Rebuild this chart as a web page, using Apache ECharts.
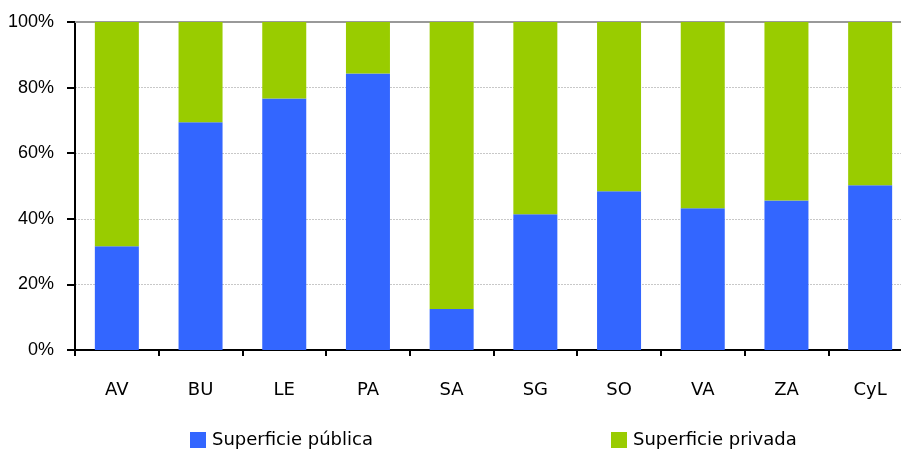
<!DOCTYPE html>
<html><head><meta charset="utf-8">
<script src="https://cdn.jsdelivr.net/npm/echarts@6/dist/echarts.min.js"></script>
<style>html,body{margin:0;padding:0;background:#fff;overflow:hidden}#c{width:913px;height:450px}</style>
</head><body><div id="c"></div>
<script>
const categories = ['AV','BU','LE','PA','SA','SG','SO','VA','ZA','CyL'];
const publica = [31.6, 69.4, 76.7, 84.3, 12.5, 41.4, 48.4, 43.2, 45.6, 50.2];
const privada = publica.map(v => +(100 - v).toFixed(1));
const yTicks = [0, 20, 40, 60, 80, 100];

const chart = echarts.init(document.getElementById('c'));
chart.setOption({
  animation: false,
  grid: { left: 75, top: 22, right: 1, bottom: 100, containLabel: false },
  legend: [
    { data: ['Superficie pública'], left: 190, top: 431, itemWidth: 16, itemHeight: 16, icon: 'rect', padding: 0,
      textStyle: { fontFamily: 'DejaVu Sans', fontSize: 18, lineHeight: 16, color: '#000', padding: [0, 0, 0, 1] } },
    { data: ['Superficie privada'], left: 611, top: 431, itemWidth: 16, itemHeight: 16, icon: 'rect', padding: 0,
      textStyle: { fontFamily: 'DejaVu Sans', fontSize: 18, lineHeight: 16, color: '#000', padding: [0, 0, 0, 1] } }
  ],
  xAxis: [{
    type: 'category', data: categories, position: 'bottom',
    axisLine: { lineStyle: { color: '#000', width: 2 } },
    axisTick: { show: true, length: 6, lineStyle: { color: '#000', width: 2 } },
    axisLabel: { margin: 31, fontFamily: 'DejaVu Sans', fontSize: 18, color: '#000' }
  }, {
    type: 'category', data: categories, position: 'top',
    axisLine: { lineStyle: { color: '#999', width: 2 } },
    axisTick: { show: false }, axisLabel: { show: false }
  }],
  yAxis: {
    type: 'value', min: yTicks[0], max: yTicks[yTicks.length - 1], interval: 20,
    axisLine: { show: true, lineStyle: { color: '#000', width: 2 } },
    axisTick: { show: true, length: 8, lineStyle: { color: '#000', width: 2 } },
    axisLabel: { formatter: '{value}%', margin: 21, fontFamily: 'Liberation Sans', fontSize: 18, color: '#000' },
    splitLine: { show: true, lineStyle: { color: '#c8c8c8', type: [2, 1], width: 1 } }
  },
  series: [
    { name: 'Superficie pública', type: 'bar', stack: 's', data: publica, barWidth: 44,
      itemStyle: { color: '#3366FF' } },
    { name: 'Superficie privada', type: 'bar', stack: 's', data: privada, barWidth: 44,
      itemStyle: { color: '#99CC00' } }
  ]
});
</script></body></html>
